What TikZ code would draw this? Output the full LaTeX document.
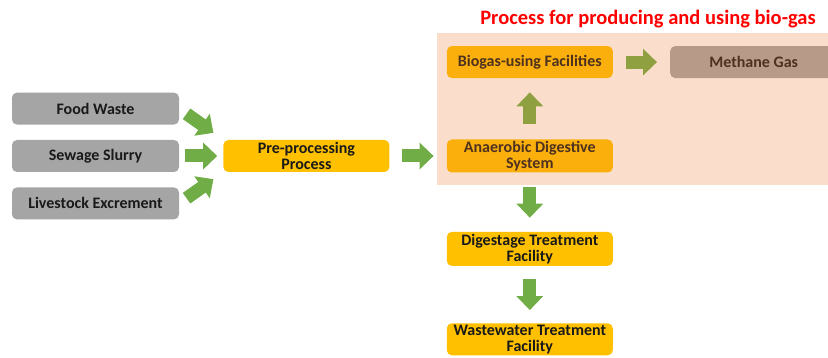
\documentclass[tikz,border=0pt]{standalone}
\usepackage{fontspec}
\setmainfont{Carlito}
\usetikzlibrary{positioning,arrows.meta}
\definecolor{srcgray}{HTML}{A5A5A5}
\definecolor{stageyellow}{HTML}{FFC000}
\definecolor{flowgreen}{HTML}{70AD47}
\definecolor{tintorange}{HTML}{ED7D31}
\definecolor{titlered}{HTML}{FF0000}
\newcommand{\srcbox}[3]{\node[rectangle,rounded corners=5pt,fill=srcgray,text=black!90,minimum width=167pt,minimum height=32pt](#1)[#2]{#3}}
\newcommand{\stagebox}[4][32pt]{\node[rectangle,rounded corners=5pt,fill=stageyellow,text=black!90,align=center,inner ysep=0pt,minimum width=166pt,minimum height=#1](#2)[#3]{#4}}

\begin{document}
\begin{tikzpicture}[x=1pt,y=-1pt,font=\fontsize{16}{16}\selectfont\bfseries,
  flow/.style={draw=flowgreen,line width=13pt,-{Triangle[length=14pt,width=26pt]}}]
\useasboundingbox (0,0) rectangle (828,358);

\srcbox{sewage}{at={(95.5,156)}}{Sewage Slurry};
\srcbox{food}{above=15pt of sewage}{Food Waste};
\srcbox{livestock}{below=15pt of sewage}{Livestock Excrement};
\stagebox{pre}{right=44pt of sewage}{Pre-processing\\Process};
\stagebox[33pt]{anaerobic}{right=57pt of pre}{Anaerobic Digestive\\System};
\stagebox{biogas}{above=61pt of anaerobic}{Biogas-using Facilities};
\srcbox{methane}{right=57pt of biogas}{Methane Gas};
\stagebox[34pt]{digest}{below=59pt of anaerobic}{Digestage Treatment\\Facility};
\stagebox{waste}{below=57pt of digest}{Wastewater Treatment\\Facility};

\draw[flow,shorten <=9pt,shorten >=12pt](food.east)--(pre.north west);
\draw[flow,shorten <=6pt,shorten >=6pt](sewage)--(pre);
\draw[flow,shorten <=9pt,shorten >=12pt](livestock.east)--(pre.south west);
\draw[flow,shorten <=12pt,shorten >=13pt](pre)--(anaerobic);
\draw[flow,shorten <=15pt,shorten >=14pt](anaerobic)--(biogas);
\draw[flow,shorten <=13pt,shorten >=13pt](biogas)--(methane);
\draw[flow,shorten <=14pt,shorten >=14pt](anaerobic)--(digest);
\draw[flow,shorten <=13pt,shorten >=13pt](digest)--(waste);

% tinted band over the bio-gas stages
\fill[tintorange,opacity=0.25](437,33)rectangle(834,185);
\node(title)[text=titlered,font=\fontsize{20.5}{21}\selectfont\bfseries]at(648,19){Process for producing and using bio-gas};

\end{tikzpicture}
\end{document}
